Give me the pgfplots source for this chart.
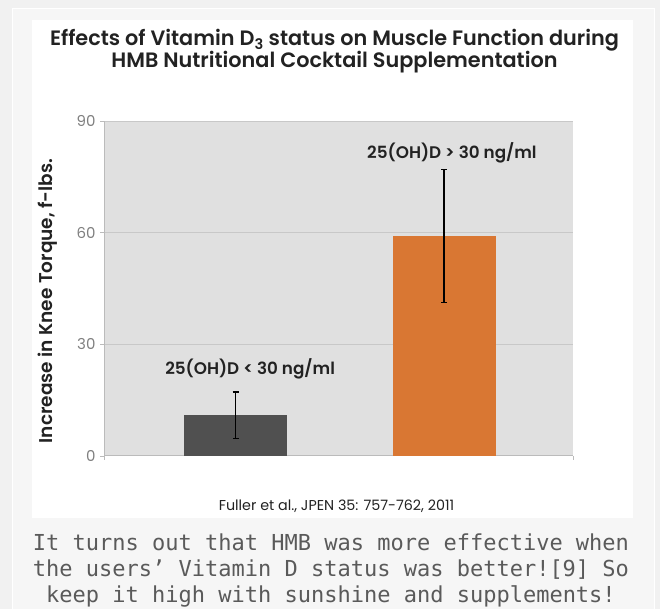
\documentclass[border=0pt]{standalone}
\usepackage{pgfplots}
\pgfplotsset{compat=1.18}
\usepackage{fontspec}
\setmainfont{Poppins}[BoldFont={Poppins SemiBold}]
\setmonofont{DejaVu Sans Mono}
\definecolor{outerbg}{HTML}{F1F1F1}
\definecolor{boxbg}{HTML}{F6F6F6}
\definecolor{plotbg}{HTML}{E0E0E0}
\definecolor{gridc}{HTML}{C8C8C8}
\definecolor{axisc}{HTML}{BBBBBB}
\definecolor{darkbar}{HTML}{505050}
\definecolor{orangebar}{HTML}{D97733}
\definecolor{tickc}{HTML}{808080}
\definecolor{captionc}{HTML}{5A5A5A}
\definecolor{titlec}{HTML}{222222}
\begin{document}
\begin{tikzpicture}[x=1pt,y=1pt]
\fill[outerbg] (0,0) rectangle (660,609);
\fill[boxbg] (12,0) rectangle (654,600);
\draw[white, line width=1pt] (12,0) -- (12,600) -- (654,600) -- (654,0);
\fill[white] (32,91) rectangle (633,589);
\node[font=\fontsize{20.8}{22}\selectfont\bfseries, text=titlec, align=center] at (334.5,558)
  {Effects of Vitamin D\textsubscript{3} status on Muscle Function during\\HMB Nutritional Cocktail Supplementation};
\node[font=\fontsize{14.3}{16}\selectfont, text=titlec] at (336.5,103) {Fuller et al., JPEN 35: 757-762, 2011};
\node[font=\fontsize{22}{26}\selectfont\ttfamily, text=captionc, align=center] at (331,38.5)
  {It turns out that HMB was more effective when\\the users’ Vitamin D status was better![9] So\\keep it high with sunshine and supplements!};
\node[font=\fontsize{18.5}{20}\selectfont\bfseries, text=titlec, rotate=90] at (48,308) {Increase in Knee Torque, f-lbs.};
\begin{axis}[
  at={(104pt,153pt)}, anchor=south west,
  scale only axis, width=469pt, height=335pt,
  xmin=0.3693, xmax=2.6187, ymin=0, ymax=90,
  ytick={0,30,60,90},
  xtick={0.3693,2.6187}, xticklabels={,},
  tick align=outside, major tick length=4pt,
  tick style={axisc, line width=0.8pt},
  axis lines*=left,
  axis line style={axisc, line width=1pt},
  axis background/.style={fill=plotbg},
  ymajorgrids, grid style={gridc, line width=1pt},
  every tick label/.append style={font=\fontsize{15}{16}\selectfont, text=tickc},
  /pgf/number format/assume math mode=true,
  yticklabel style={xshift=-1pt},
  clip=false,
]
\addplot[ybar, bar width=103pt, bar shift=0pt, fill=darkbar, draw=none,
  error bars/.cd, y dir=both, y explicit,
  error bar style={black, line width=1.2pt}, error mark options={black, line width=1.2pt, mark size=3pt, rotate=90}]
  coordinates {(1,11.0) +- (0,6.2)};
\addplot[ybar, bar width=103pt, bar shift=0pt, fill=orangebar, draw=none,
  error bars/.cd, y dir=both, y explicit,
  error bar style={black, line width=1.2pt}, error mark options={black, line width=1.2pt, mark size=3pt, rotate=90}]
  coordinates {(2,59.1) +- (0,17.8)};
\node[font=\fontsize{16.8}{18}\selectfont\bfseries, text=titlec] at (axis cs:1.07,23.4) {25(OH)D < 30 ng/ml};
\node[font=\fontsize{16.8}{18}\selectfont\bfseries, text=titlec] at (axis cs:2.038,81.4) {25(OH)D > 30 ng/ml};
\end{axis}
\end{tikzpicture}
\end{document}
